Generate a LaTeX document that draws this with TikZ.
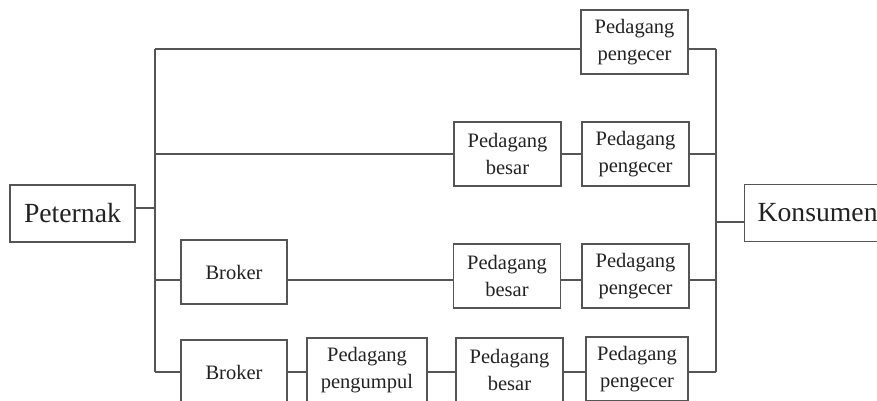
\documentclass[tikz,border=0pt]{standalone}
\usepackage{fontspec}
\setmainfont{Liberation Serif}
\begin{document}
\begin{tikzpicture}[x=1pt, y=-1pt]
\definecolor{linecol}{HTML}{555555}
\definecolor{textcol}{HTML}{222222}
\tikzset{
  box/.style={draw=linecol, line width=1.2pt, text=textcol, align=center, inner sep=0pt,
    minimum width=107pt, minimum height=64pt, font=\fontsize{20.5}{27}\selectfont},
  bigbox/.style={draw=linecol, line width=1.2pt, text=textcol, inner xsep=13pt,
    minimum height=57pt, font=\fontsize{27.7}{32}\selectfont},
  wire/.style={draw=linecol, line width=1.2pt}
}
\useasboundingbox (0,0) rectangle (877,400);
\node[bigbox, minimum width=125pt] (pet) at (72.5,213.5) {Peternak};
\node[bigbox, anchor=west] (kon) at (744,213) {Konsumen};
\node[box] (ecr1) at (634.5,42) {Pedagang\\pengecer};
\node[box] (bsr2) at (507.5,154) {Pedagang\\besar};
\node[box] (ecr2) at (635.5,154) {Pedagang\\pengecer};
\node[box, minimum width=106pt] (brk3) at (234,272) {Broker};
\node[box] (bsr3) at (507,276) {Pedagang\\besar};
\node[box] (ecr3) at (635.5,276) {Pedagang\\pengecer};
\node[box, minimum width=106pt] (brk4) at (234,372) {Broker};
\node[box, minimum width=120pt] (kum4) at (367,370) {Pedagang\\pengumpul};
\node[box] (bsr4) at (509.5,370) {Pedagang\\besar};
\node[box, minimum width=102pt] (ecr4) at (637,369) {Pedagang\\pengecer};
\coordinate (tp) at (155,208);
\coordinate (t1) at (155,49);
\coordinate (t2) at (155,154);
\coordinate (t3) at (155,280);
\coordinate (t4) at (155,372);
\coordinate (s1) at (716,49);
\coordinate (s2) at (716,154);
\coordinate (s3) at (716,280);
\coordinate (s4) at (716,372);
\coordinate (sk) at (716,222);
\draw[wire] (pet.east |- tp) -- (tp);
\draw[wire] (t1) -- (t4);
\draw[wire] (s1) -- (s4);
\draw[wire] (sk) -- (sk -| kon.west);
\draw[wire] (t1) -- (t1 -| ecr1.west) (t1 -| ecr1.east) -- (s1);
\draw[wire] (t2) -- (t2 -| bsr2.west) (t2 -| bsr2.east) -- (t2 -| ecr2.west) (t2 -| ecr2.east) -- (s2);
\draw[wire] (t3) -- (t3 -| brk3.west) (t3 -| brk3.east) -- (t3 -| bsr3.west) (t3 -| bsr3.east) -- (t3 -| ecr3.west) (t3 -| ecr3.east) -- (s3);
\draw[wire] (t4) -- (t4 -| brk4.west) (t4 -| brk4.east) -- (t4 -| kum4.west) (t4 -| kum4.east) -- (t4 -| bsr4.west) (t4 -| bsr4.east) -- (t4 -| ecr4.west) (t4 -| ecr4.east) -- (s4);
\end{tikzpicture}
\end{document}
